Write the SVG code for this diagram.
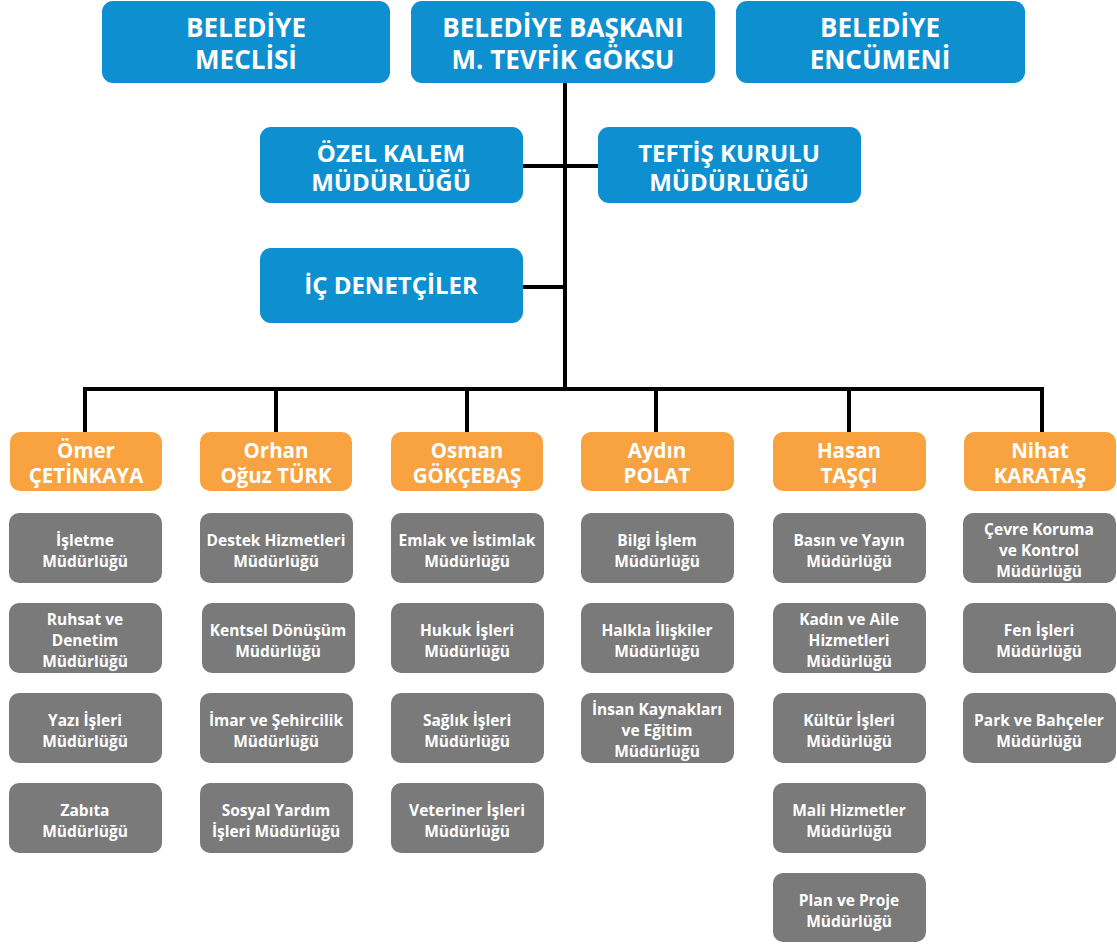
<svg xmlns="http://www.w3.org/2000/svg" width="1117" height="944" viewBox="0 0 1117 944">
<style>
.bl{fill:#0E8FCF}
.or{fill:#F8A33F}
.gr{fill:#7A7A7A}
text{font-family:"Open Sans","Noto Sans","Liberation Sans",sans-serif;font-weight:700;fill:#fff;text-anchor:middle}
.t1{font-size:26px}
.t2{font-size:24px}
.t3{font-size:20.5px}
.t4{font-size:15.5px}
.ln{stroke:#000;stroke-width:4;fill:none}
</style>
<rect width="1117" height="944" fill="#fff"/>
<g id="connectors" class="ln">
<path d="M565 83V389"/>
<path d="M523 166H598"/>
<path d="M523 287H565"/>
<path d="M85 389H1042"/>
<path d="M85 387V433M276 389V433M467 389V433M656 389V433M849 389V433M1042 387V433"/>
</g>
<g id="meclis"><rect class="bl" x="102" y="1" width="288" height="82" rx="11"/><text class="t1" x="246" y="37">BELEDİYE</text><text class="t1" x="246" y="69">MECLİSİ</text></g>
<g id="baskan"><rect class="bl" x="411" y="1" width="304" height="82" rx="11"/><text class="t1" x="563" y="37">BELEDİYE BAŞKANI</text><text class="t1" x="563" y="69">M. TEVFİK GÖKSU</text></g>
<g id="encumen"><rect class="bl" x="736" y="1" width="289" height="82" rx="11"/><text class="t1" x="880" y="37">BELEDİYE</text><text class="t1" x="880" y="69">ENCÜMENİ</text></g>
<g id="ozelkalem"><rect class="bl" x="260" y="127" width="263" height="76" rx="11"/><text class="t2" x="391" y="162">ÖZEL KALEM</text><text class="t2" x="391" y="191">MÜDÜRLÜĞÜ</text></g>
<g id="teftis"><rect class="bl" x="598" y="127" width="263" height="76" rx="11"/><text class="t2" x="729" y="162">TEFTİŞ KURULU</text><text class="t2" x="729" y="191">MÜDÜRLÜĞÜ</text></g>
<g id="icdenetci"><rect class="bl" x="260" y="248" width="263" height="75" rx="11"/><text class="t2" x="391" y="294">İÇ DENETÇİLER</text></g>

<g id="omer"><rect class="or" x="10" y="432" width="152" height="59" rx="10"/><text class="t3" x="86" y="458">Ömer</text><text class="t3" x="86" y="483">ÇETİNKAYA</text></g>
<g id="orhan"><rect class="or" x="200" y="432" width="152" height="59" rx="10"/><text class="t3" x="276" y="458">Orhan</text><text class="t3" x="276" y="483">Oğuz TÜRK</text></g>
<g id="osman"><rect class="or" x="391" y="432" width="152" height="59" rx="10"/><text class="t3" x="467" y="458">Osman</text><text class="t3" x="467" y="483">GÖKÇEBAŞ</text></g>
<g id="aydin"><rect class="or" x="581" y="432" width="153" height="59" rx="10"/><text class="t3" x="657" y="458">Aydın</text><text class="t3" x="657" y="483">POLAT</text></g>
<g id="hasan"><rect class="or" x="773" y="432" width="153" height="59" rx="10"/><text class="t3" x="849" y="458">Hasan</text><text class="t3" x="849" y="483">TAŞÇI</text></g>
<g id="nihat"><rect class="or" x="964" y="432" width="152" height="59" rx="10"/><text class="t3" x="1040" y="458">Nihat</text><text class="t3" x="1040" y="483">KARATAŞ</text></g>

<g id="isletme"><rect class="gr" x="9" y="513" width="153" height="70" rx="10"/><text class="t4" x="85" y="546">İşletme</text><text class="t4" x="85" y="567">Müdürlüğü</text></g>
<g id="ruhsat"><rect class="gr" x="9" y="603" width="153" height="70" rx="10"/><text class="t4" x="85" y="625">Ruhsat ve</text><text class="t4" x="85" y="646">Denetim</text><text class="t4" x="85" y="667">Müdürlüğü</text></g>
<g id="yazi"><rect class="gr" x="9" y="693" width="153" height="70" rx="10"/><text class="t4" x="85" y="726">Yazı İşleri</text><text class="t4" x="85" y="747">Müdürlüğü</text></g>
<g id="zabita"><rect class="gr" x="9" y="783" width="153" height="70" rx="10"/><text class="t4" x="85" y="816">Zabıta</text><text class="t4" x="85" y="837">Müdürlüğü</text></g>

<g id="destek"><rect class="gr" x="200" y="513" width="153" height="70" rx="10"/><text class="t4" x="276" y="546">Destek Hizmetleri</text><text class="t4" x="276" y="567">Müdürlüğü</text></g>
<g id="kentsel"><rect class="gr" x="202" y="603" width="153" height="70" rx="10"/><text class="t4" x="278" y="636">Kentsel Dönüşüm</text><text class="t4" x="278" y="657">Müdürlüğü</text></g>
<g id="imar"><rect class="gr" x="200" y="693" width="153" height="70" rx="10"/><text class="t4" x="276" y="726">İmar ve Şehircilik</text><text class="t4" x="276" y="747">Müdürlüğü</text></g>
<g id="sosyal"><rect class="gr" x="200" y="783" width="153" height="70" rx="10"/><text class="t4" x="276" y="816">Sosyal Yardım</text><text class="t4" x="276" y="837">İşleri Müdürlüğü</text></g>

<g id="emlak"><rect class="gr" x="391" y="513" width="153" height="70" rx="10"/><text class="t4" x="467" y="546">Emlak ve İstimlak</text><text class="t4" x="467" y="567">Müdürlüğü</text></g>
<g id="hukuk"><rect class="gr" x="391" y="603" width="153" height="70" rx="10"/><text class="t4" x="467" y="636">Hukuk İşleri</text><text class="t4" x="467" y="657">Müdürlüğü</text></g>
<g id="saglik"><rect class="gr" x="391" y="693" width="153" height="70" rx="10"/><text class="t4" x="467" y="726">Sağlık İşleri</text><text class="t4" x="467" y="747">Müdürlüğü</text></g>
<g id="veteriner"><rect class="gr" x="391" y="783" width="153" height="70" rx="10"/><text class="t4" x="467" y="816">Veteriner İşleri</text><text class="t4" x="467" y="837">Müdürlüğü</text></g>

<g id="bilgi"><rect class="gr" x="581" y="513" width="153" height="70" rx="10"/><text class="t4" x="657" y="546">Bilgi İşlem</text><text class="t4" x="657" y="567">Müdürlüğü</text></g>
<g id="halkla"><rect class="gr" x="581" y="603" width="153" height="70" rx="10"/><text class="t4" x="657" y="636">Halkla İlişkiler</text><text class="t4" x="657" y="657">Müdürlüğü</text></g>
<g id="insan"><rect class="gr" x="581" y="693" width="153" height="70" rx="10"/><text class="t4" x="657" y="715">İnsan Kaynakları</text><text class="t4" x="657" y="736">ve Eğitim</text><text class="t4" x="657" y="757">Müdürlüğü</text></g>

<g id="basin"><rect class="gr" x="773" y="513" width="153" height="70" rx="10"/><text class="t4" x="849" y="546">Basın ve Yayın</text><text class="t4" x="849" y="567">Müdürlüğü</text></g>
<g id="kadin"><rect class="gr" x="773" y="603" width="153" height="70" rx="10"/><text class="t4" x="849" y="625">Kadın ve Aile</text><text class="t4" x="849" y="646">Hizmetleri</text><text class="t4" x="849" y="667">Müdürlüğü</text></g>
<g id="kultur"><rect class="gr" x="773" y="693" width="153" height="70" rx="10"/><text class="t4" x="849" y="726">Kültür İşleri</text><text class="t4" x="849" y="747">Müdürlüğü</text></g>
<g id="mali"><rect class="gr" x="773" y="783" width="153" height="70" rx="10"/><text class="t4" x="849" y="816">Mali Hizmetler</text><text class="t4" x="849" y="837">Müdürlüğü</text></g>
<g id="plan"><rect class="gr" x="773" y="873" width="153" height="69" rx="10"/><text class="t4" x="849" y="906">Plan ve Proje</text><text class="t4" x="849" y="927">Müdürlüğü</text></g>

<g id="cevre"><rect class="gr" x="963" y="513" width="153" height="70" rx="10"/><text class="t4" x="1039" y="535">Çevre Koruma</text><text class="t4" x="1039" y="556">ve Kontrol</text><text class="t4" x="1039" y="577">Müdürlüğü</text></g>
<g id="fen"><rect class="gr" x="963" y="603" width="153" height="70" rx="10"/><text class="t4" x="1039" y="636">Fen İşleri</text><text class="t4" x="1039" y="657">Müdürlüğü</text></g>
<g id="park"><rect class="gr" x="963" y="693" width="153" height="70" rx="10"/><text class="t4" x="1039" y="726">Park ve Bahçeler</text><text class="t4" x="1039" y="747">Müdürlüğü</text></g>
</svg>
